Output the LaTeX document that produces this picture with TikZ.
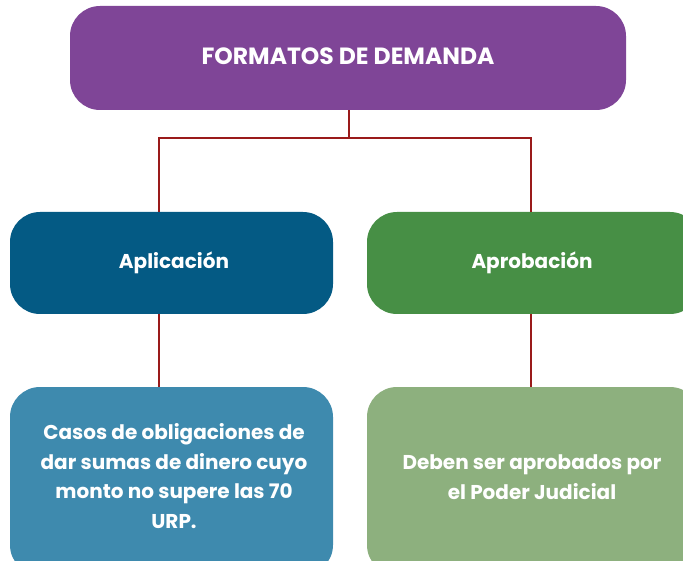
\documentclass[tikz,border=0pt]{standalone}
\usepackage{fontspec}
\setmainfont{Poppins}
\definecolor{cpurple}{HTML}{7F4597}
\definecolor{cblue}{HTML}{045A84}
\definecolor{cgreen}{HTML}{478F45}
\definecolor{clblue}{HTML}{3E8AAE}
\definecolor{clgreen}{HTML}{8DB07E}
\definecolor{cline}{HTML}{9A1A1A}
\begin{document}
\begin{tikzpicture}[x=1pt,y=-1pt,
  box/.style={rounded corners=30pt,inner sep=0pt,text=white,font=\bfseries\fontsize{20}{29.5}\selectfont,align=center},
  conn/.style={draw=cline,line width=2.2pt}]
\useasboundingbox (0,0) rectangle (683,561);
\clip (0,0) rectangle (683,561);
\fill[cpurple,rounded corners=30pt] (70,6) rectangle (626,110);
\node[font=\bfseries\fontsize{23.5}{28}\selectfont,text=white] (top) at (348,56) {FORMATOS DE DEMANDA};
\coordinate (topb) at (349,110);
\fill[cblue,rounded corners=30pt] (10,212) rectangle (333,314);
\node[box] (apl) at (174,263) {Aplicación};
\fill[cgreen,rounded corners=30pt] (367,212) rectangle (700,314);
\node[box] (apr) at (532,263) {Aprobación};
\fill[clblue,rounded corners=30pt] (10,387) rectangle (333,575);
\node[box] (casos) at (174,476) {Casos de obligaciones de\\dar sumas de dinero cuyo\\monto no supere las 70\\URP.};
\fill[clgreen,rounded corners=30pt] (367,387) rectangle (700,575);
\node[box] (deben) at (532,477) {Deben ser aprobados por\\el Poder Judicial};
\coordinate (al) at (159,212);
\coordinate (alb) at (159,314);
\coordinate (cl) at (159,387);
\coordinate (ar) at (531,212);
\coordinate (arb) at (531,314);
\coordinate (cr) at (531,387);
\coordinate (mid) at (349,138);
\draw[conn] (topb) -- (mid) -| (al);
\draw[conn] (mid) -| (ar);
\draw[conn] (alb) -- (cl);
\draw[conn] (arb) -- (cr);
\end{tikzpicture}
\end{document}
